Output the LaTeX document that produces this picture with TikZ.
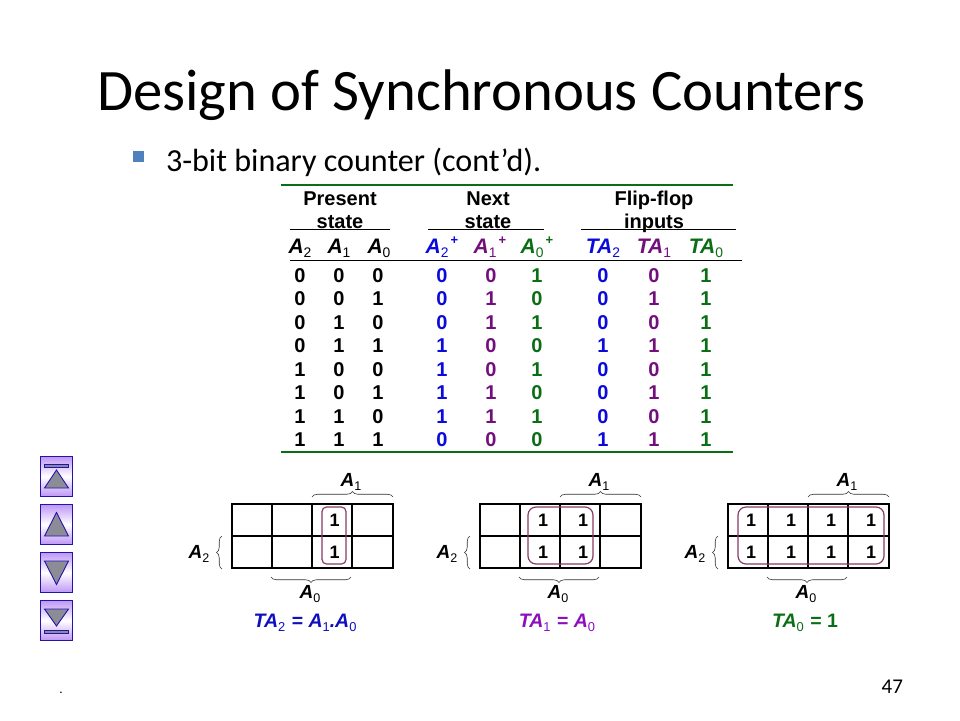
\documentclass[tikz,border=0pt]{standalone}
\usepackage{fontspec}
\setmainfont{Liberation Sans}
\newfontfamily\calibrifont{Carlito}
\usetikzlibrary{decorations.pathreplacing,calc}
\definecolor{tblgreen}{RGB}{10,110,20}
\definecolor{tblblue}{RGB}{10,10,220}
\definecolor{tblpurple}{RGB}{115,15,125}
\definecolor{eqblue}{RGB}{15,15,190}
\definecolor{eqpurple}{RGB}{140,15,190}
\definecolor{loopcol}{RGB}{135,60,100}
\definecolor{bulletcol}{RGB}{79,129,189}
\definecolor{navedge}{RGB}{35,20,170}
\definecolor{navfill}{RGB}{190,150,245}
\definecolor{navtri}{RGB}{140,140,150}
\newcommand{\sbs}[1]{\raisebox{-0.22em}{\fontsize{0.66em}{1em}\selectfont\mdseries\upshape #1}}
\newcommand{\vr}[2]{{\bfseries\itshape #1\sbs{#2}}}
\newcommand{\vp}[2]{{\bfseries\itshape #1\sbs{#2}\raisebox{0.42em}{\fontsize{0.62em}{1em}\selectfont\upshape\,+}}}
\tikzset{
  every node/.style={inner sep=0pt,outer sep=0pt},
  titletext/.style={font=\calibrifont\fontsize{58.7}{62}\selectfont,anchor=base west},
  subtext/.style={font=\calibrifont\fontsize{32.1}{35}\selectfont,anchor=base west},
  headtext/.style={font=\fontsize{20}{22}\selectfont\bfseries,anchor=base},
  coltext/.style={font=\fontsize{21}{23}\selectfont,anchor=base},
  digit/.style={font=\fontsize{20}{22}\selectfont\bfseries,anchor=base},
  rulegreen/.style={draw=tblgreen,line width=1.5pt},
  ruleblack/.style={draw=black,line width=1pt},
  kmapline/.style={draw=black,line width=1.6pt},
  kmapone/.style={font=\fontsize{18}{20}\selectfont\bfseries,anchor=center},
  kmaplabel/.style={font=\fontsize{19}{21}\selectfont,anchor=center},
  eqtext/.style={font=\fontsize{19.5}{21}\selectfont\bfseries\itshape,anchor=base},
  loopbox/.style={draw=loopcol,line width=1.2pt,rounded corners=4.5pt},
  bracket/.style={draw=black!80,line width=0.6pt,decorate,decoration={brace,amplitude=5.5pt}},
  navbtn/.style={draw=navedge,line width=0.9pt,top color=navfill,bottom color=navfill,middle color=white},
  navmark/.style={draw=navedge,line width=0.9pt,fill=navtri},
}
\begin{document}
\begin{tikzpicture}[x=1pt,y=-1pt]
\useasboundingbox (0,0) rectangle (960,720);
\fill[white] (0,0) rectangle (960,720);

\node[titletext] (title) at (97,110) {Design of Synchronous Counters};
\fill[bulletcol] (133,151) rectangle (144,162);
\node[subtext] (sub) at (166,171) {3-bit binary counter (cont’d).};

% table rules
\draw[rulegreen] (281,185) -- (733,185);
\draw[rulegreen] (281,452) -- (733,452);
\draw[ruleblack] (290,229) -- (390,229);
\draw[ruleblack] (428,229) -- (544,229);
\draw[ruleblack] (581,229) -- (736,229);
\draw[ruleblack] (290,260) -- (742,260);

% group headers
\node[headtext] (h1a) at (340,205) {Present};
\node[headtext] (h1b) at (340,228) {state};
\node[headtext] (h2a) at (488,205) {Next};
\node[headtext] (h2b) at (488,228) {state};
\node[headtext] (h3a) at (654,205) {Flip-flop};
\node[headtext] (h3b) at (654,228) {inputs};

% column headers
\node[coltext] (c1) at (300,253) {\vr{A}{2}};
\node[coltext] (c2) at (339,253) {\vr{A}{1}};
\node[coltext] (c3) at (379,253) {\vr{A}{0}};
\node[coltext,text=tblblue] (c4) at (442,253) {\vp{A}{2}};
\node[coltext,text=tblpurple] (c5) at (490,253) {\vp{A}{1}};
\node[coltext,text=tblgreen] (c6) at (537,253) {\vp{A}{0}};
\node[coltext,text=tblblue] (c7) at (603,253) {\vr{TA}{2}};
\node[coltext,text=tblpurple] (c8) at (654,253) {\vr{TA}{1}};
\node[coltext,text=tblgreen] (c9) at (706,253) {\vr{TA}{0}};

% table digits
\foreach \yy/\a/\b/\c/\d/\e/\f/\g/\h/\i [count=\r] in {
  282/0/0/0/0/0/1/0/0/1,
  305/0/0/1/0/1/0/0/1/1,
  329/0/1/0/0/1/1/0/0/1,
  352/0/1/1/1/0/0/1/1/1,
  376/1/0/0/1/0/1/0/0/1,
  399/1/0/1/1/1/0/0/1/1,
  423/1/1/0/1/1/1/0/0/1,
  446/1/1/1/0/0/0/1/1/1}{
  \node[digit] (r\r a) at (300,\yy) {\a};
  \node[digit] (r\r b) at (339,\yy) {\b};
  \node[digit] (r\r c) at (378,\yy) {\c};
  \node[digit,text=tblblue] (r\r d) at (442,\yy) {\d};
  \node[digit,text=tblpurple] (r\r e) at (491,\yy) {\e};
  \node[digit,text=tblgreen] (r\r f) at (537,\yy) {\f};
  \node[digit,text=tblblue] (r\r g) at (603,\yy) {\g};
  \node[digit,text=tblpurple] (r\r h) at (654,\yy) {\h};
  \node[digit,text=tblgreen] (r\r i) at (706,\yy) {\i};
}

% Karnaugh maps
\foreach \ox/\m in {0/a,248/b,496/c}{
  \begin{scope}[xshift=\ox pt]
    \draw[kmapline] (232,504) rectangle (393,568);
    \draw[kmapline] (232,536) -- (393,536);
    \draw[kmapline] (272,504) -- (272,568);
    \draw[kmapline] (312,504) -- (312,568);
    \draw[kmapline] (352,504) -- (352,568);
    \draw[bracket] (312,497) -- (393,497);
    \draw[bracket] (351,577) -- (271,577);
    \draw[bracket] (222,569) -- (222,536);
    \node[kmaplabel] (\m top) at (351,482) {\vr{A}{1}};
    \node[kmaplabel] (\m bot) at (310,594) {\vr{A}{0}};
    \node[kmaplabel] (\m lft) at (199,554) {\vr{A}{2}};
  \end{scope}
}
% ones and loops
\foreach \n/\px/\py in {a1/334.5/520.5,a2/334.5/552.5,b1/543/520.5,b2/583/520.5,b3/543/552.5,b4/583/552.5,
  c1/751/520.5,c2/791/520.5,c3/831/520.5,c4/871/520.5,c5/751/552.5,c6/791/552.5,c7/831/552.5,c8/871/552.5}{
  \node[kmapone] (one\n) at (\px,\py) {1};
}
\draw[loopbox] (322,507) rectangle (346,564);
\draw[loopbox,rounded corners=8pt] (528,507) rectangle (593,564);
\draw[loopbox,rounded corners=8pt] (738,507) rectangle (884,564);

% equations
\node[eqtext,text=eqblue] (eq1) at (305,627) {\vr{TA}{2}\,\,{\upshape =} \vr{A}{1}.\vr{A}{0}};
\node[eqtext,text=eqpurple] (eq2) at (557,627) {\vr{TA}{1}\,\,{\upshape =} \vr{A}{0}};
\node[eqtext,text=tblgreen] (eq3) at (805,627) {\vr{TA}{0}\,\,{\upshape = 1}};

% navigation buttons
\draw[navbtn] (40.5,456.5) rectangle (72.5,496.5);
\draw[navmark] (44.5,464) rectangle (68.5,467);
\draw[navmark] (44.5,488) -- (56.5,470) -- (68.5,488) -- cycle;
\draw[navbtn] (40.5,504.5) rectangle (72.5,544.5);
\draw[navmark] (44.5,536) -- (56.5,512.5) -- (68.5,536) -- cycle;
\draw[navbtn] (40.5,552.5) rectangle (72.5,592.5);
\draw[navmark] (44.5,561) -- (56.5,584.5) -- (68.5,561) -- cycle;
\draw[navbtn] (40.5,600.5) rectangle (72.5,640.5);
\draw[navmark] (44.5,609) -- (56.5,626) -- (68.5,609) -- cycle;
\draw[navmark] (44.5,630) rectangle (68.5,633);

% footer
\node[font=\calibrifont\fontsize{13}{15}\selectfont,anchor=base] (dot) at (61,693) {.};
\node[font=\calibrifont\fontsize{21}{23}\selectfont,anchor=base east] (page) at (903,693) {47};
\end{tikzpicture}
\end{document}
